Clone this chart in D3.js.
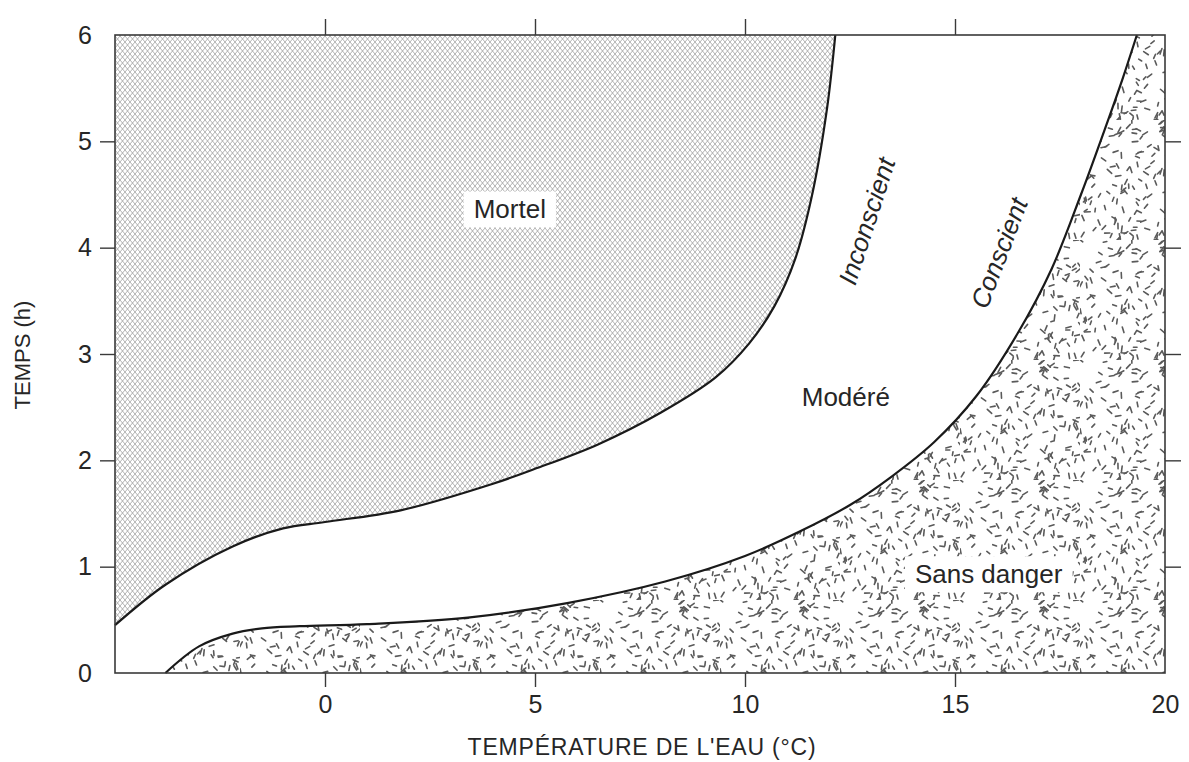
<!DOCTYPE html>
<html>
<head>
<meta charset="utf-8">
<script src="https://cdn.jsdelivr.net/npm/d3@7"></script>
<style>
  body { margin: 0; background: #fff; }
  svg text { font-family: "Liberation Sans", Arial, sans-serif; fill: #262626; }
</style>
</head>
<body>
<svg id="chart" width="1189" height="762"></svg>
<script>
// water temperature (°C) / time (h)
const mortelT = [-5, -3.8, -2.2, -1, 0, 1.8, 4, 5, 6.5, 8, 9.3, 10.1, 10.7, 11.2, 11.6, 11.95, 12.15];
const mortelH = [0.45, 0.83, 1.19, 1.36, 1.42, 1.53, 1.78, 1.92, 2.15, 2.45, 2.78, 3.1, 3.45, 3.9, 4.5, 5.3, 6];
const conscT = [-3.8, -3.0, -2.2, -1.5, -0.6, 1, 3.4, 5.8, 8.1, 10, 11.3, 12.5, 13.5, 14.5, 15.5, 16.5, 17.3, 18.0, 18.6, 19.0, 19.33];
const conscH = [0, 0.25, 0.37, 0.42, 0.44, 0.46, 0.52, 0.66, 0.86, 1.1, 1.33, 1.58, 1.85, 2.17, 2.6, 3.2, 3.8, 4.5, 5.15, 5.6, 6];
const xTicks = [0, 5, 10, 15, 20];
const yTicks = [0, 1, 2, 3, 4, 5, 6];
const zones = [
  {name: "Mortel", t: 4.4, h: 4.36, box: true},
  {name: "Modéré", t: 12.4, h: 2.6, box: false},
  {name: "Sans danger", t: 15.8, h: 0.93, box: true}
];
const edgeLabels = [
  {name: "Inconscient", t: 12.9, h: 4.25, angle: -72},
  {name: "Conscient", t: 16.05, h: 3.95, angle: -69}
];

const svg = d3.select("#chart");
const x = d3.scaleLinear().domain([-5, 20]).range([115, 1165]);
const y = d3.scaleLinear().domain([0, 6]).range([673, 35]);

// fill patterns
const defs = svg.append("defs");
const hatch = defs.append("pattern").attr("id", "hatch")
  .attr("patternUnits", "userSpaceOnUse").attr("width", 5).attr("height", 6);
hatch.append("path").attr("d", "M0,0L5,6M5,0L0,6M-2.5,3L0,0M5,6L7.5,3")
  .attr("stroke", "#9a9a9a").attr("stroke-width", 0.75).attr("fill", "none");

const dash = defs.append("pattern").attr("id", "dash")
  .attr("patternUnits", "userSpaceOnUse").attr("width", 120).attr("height", 120);
const rnd = d3.randomLcg(0.37);
const dashes = d3.range(190).map(() => ({cx: rnd() * 120, cy: rnd() * 120, a: rnd() * Math.PI, l: 3.5 + rnd() * 2.5}));
dash.selectAll("line").data(dashes).join("line")
  .attr("x1", d => d.cx - Math.cos(d.a) * d.l / 2)
  .attr("y1", d => d.cy - Math.sin(d.a) * d.l / 2)
  .attr("x2", d => d.cx + Math.cos(d.a) * d.l / 2)
  .attr("y2", d => d.cy + Math.sin(d.a) * d.l / 2)
  .attr("stroke", "#5a5a5a").attr("stroke-width", 1.6).attr("stroke-linecap", "round");

const upper = mortelT.map((t, i) => [t, mortelH[i]]);
const lower = conscT.map((t, i) => [t, conscH[i]]);

const line = d3.line().x(d => x(d[0])).y(d => y(d[1])).curve(d3.curveCatmullRom.alpha(0.5));

// zones
svg.append("path")
  .attr("d", line(upper) + `L${x(-5)},${y(6)}Z`)
  .attr("fill", "url(#hatch)");
svg.append("path")
  .attr("d", line(lower) + `L${x(20)},${y(6)}L${x(20)},${y(0)}Z`)
  .attr("fill", "url(#dash)");

// boundary curves
[upper, lower].forEach(pts => {
  svg.append("path").attr("d", line(pts))
    .attr("fill", "none").attr("stroke", "#1a1a1a").attr("stroke-width", 2.2);
});

// frame
svg.append("rect")
  .attr("x", x(-5)).attr("y", y(6))
  .attr("width", x(20) - x(-5)).attr("height", y(0) - y(6))
  .attr("fill", "none").attr("stroke", "#3a3a3a").attr("stroke-width", 1.6);

// axes
const fmt = d => String(d);
const gx = svg.append("g").attr("transform", `translate(0,${y(0)})`)
  .call(d3.axisBottom(x).tickValues(xTicks).tickSize(14).tickSizeOuter(0).tickPadding(8).tickFormat(fmt));
const gxTop = svg.append("g").attr("transform", `translate(0,${y(6)})`)
  .call(d3.axisTop(x).tickValues(xTicks.slice(0, 4)).tickSize(16).tickSizeOuter(0).tickFormat(""));
const gy = svg.append("g").attr("transform", `translate(${x(-5)},0)`)
  .call(d3.axisLeft(y).tickValues(yTicks).tickSize(15).tickSizeOuter(0).tickPadding(8).tickFormat(fmt));
const gyR = svg.append("g").attr("transform", `translate(${x(20)},0)`)
  .call(d3.axisRight(y).tickValues(yTicks.slice(1, 6)).tickSize(16).tickSizeOuter(0).tickFormat(""));

[gx, gxTop, gy, gyR].forEach(g => {
  g.select(".domain").remove();
  g.selectAll(".tick line").attr("stroke", "#3a3a3a").attr("stroke-width", 1.4);
  g.selectAll(".tick text").attr("font-size", 25).attr("fill", "#262626")
    .attr("font-family", "Liberation Sans, Arial, sans-serif");
});
gx.selectAll(".tick").filter(d => d === 20).select("line").remove();
gy.selectAll(".tick").filter(d => d === 0 || d === 6).select("line").remove();

// axis titles
svg.append("text").attr("x", 642).attr("y", 755).attr("text-anchor", "middle")
  .attr("font-size", 23).attr("letter-spacing", 0.8).text("TEMPÉRATURE DE L'EAU (°C)");
svg.append("text").attr("transform", `translate(30,355) rotate(-90)`).attr("text-anchor", "middle")
  .attr("font-size", 22).text("TEMPS (h)");

// zone labels
zones.forEach(z => {
  const g = svg.append("g").attr("transform", `translate(${x(z.t)},${y(z.h)})`);
  const t = g.append("text").attr("text-anchor", "middle").attr("dy", "0.35em")
    .attr("font-size", 26).text(z.name);
  if (z.box) {
    const b = t.node().getBBox();
    g.insert("rect", "text").attr("x", b.x - 10).attr("y", b.y - 3)
      .attr("width", b.width + 20).attr("height", b.height + 6).attr("fill", "#fff");
  }
});
edgeLabels.forEach(l => {
  svg.append("text")
    .attr("transform", `translate(${x(l.t)},${y(l.h)}) rotate(${l.angle})`)
    .attr("text-anchor", "middle").attr("dy", "0.35em")
    .attr("font-size", 26).attr("font-style", "italic").text(l.name);
});
</script>
</body>
</html>
